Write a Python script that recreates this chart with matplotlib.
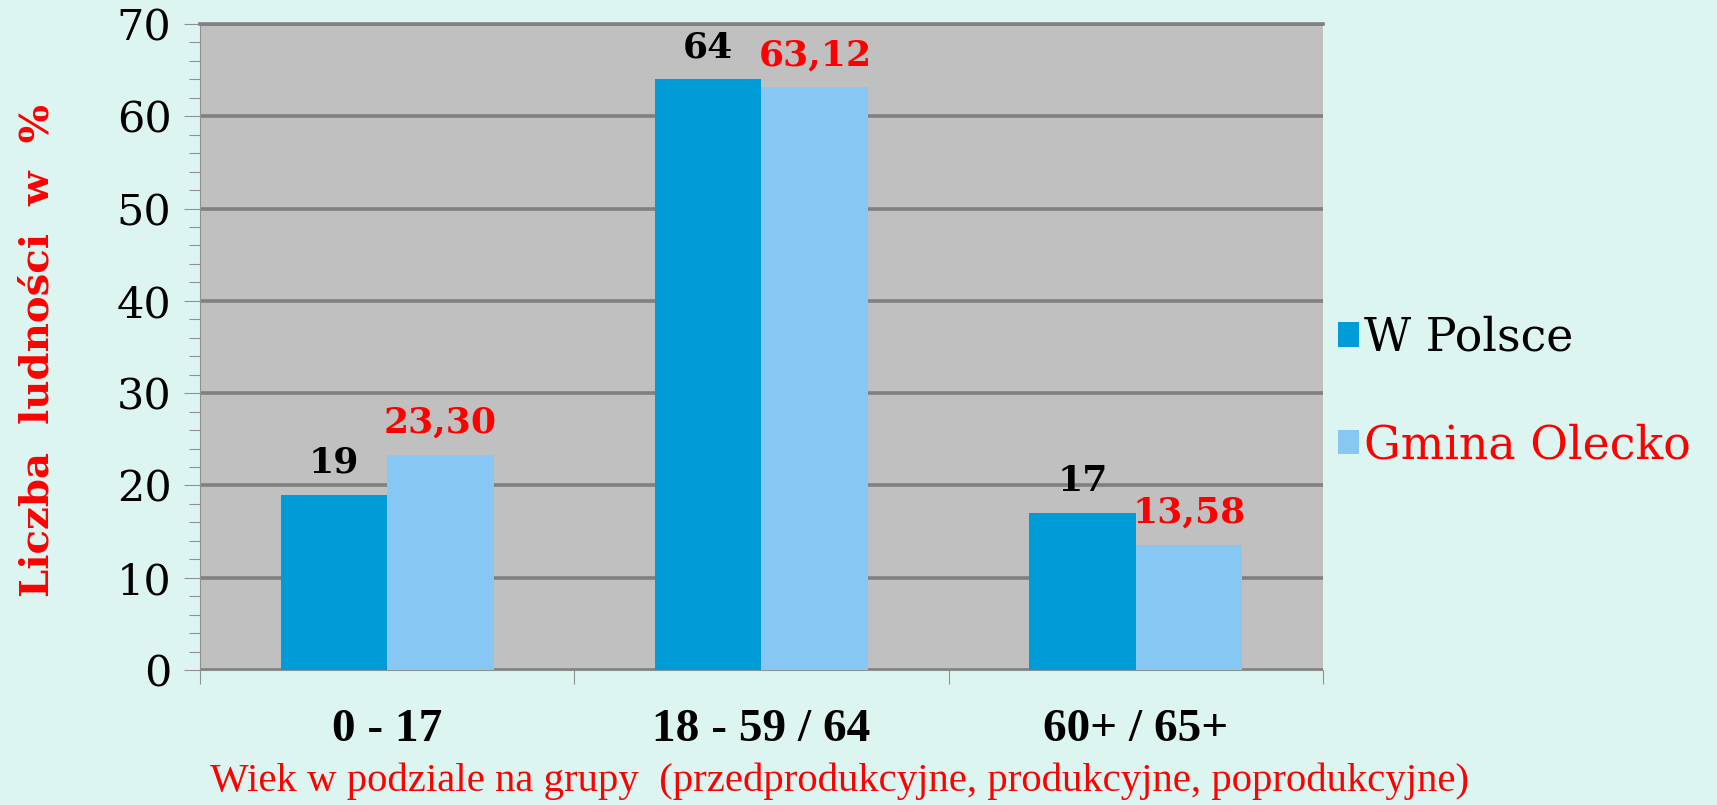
import matplotlib
matplotlib.use('Agg')
import matplotlib.pyplot as plt
import numpy as np

# dane
kategorie = ['0 - 17', '18 - 59 / 64', '60+ / 65+']
w_polsce = [19, 64, 17]
gmina_olecko = [23.30, 63.12, 13.58]
etykiety_polska = ['19', '64', '17']
etykiety_olecko = ['23,30', '63,12', '13,58']
serie = ['W Polsce', 'Gmina Olecko']

TLO = '#DDF5F0'
SZARY = '#C0C0C0'
CIEMNY = '#009CD7'
JASNY = '#87C7F4'
SIATKA = '#808080'

fig = plt.figure(figsize=(17.17, 8.05), dpi=100, facecolor=TLO)
ax = fig.add_axes([0.1165, 0.1677, 0.654, 0.8025])
ax.set_facecolor(SZARY)

x = np.arange(len(kategorie))
w = 0.285
ax.bar(x - w / 2, w_polsce, w, color=CIEMNY, label=serie[0], zorder=3)
ax.bar(x + w / 2, gmina_olecko, w, color=JASNY, label=serie[1], zorder=3)

for xi, v, t in zip(x - w / 2, w_polsce, etykiety_polska):
    ax.annotate(t, (xi, v), xytext=(0, 16), textcoords='offset points',
                ha='center', va='baseline', fontsize=26, fontweight='bold',
                family='DejaVu Serif', color='black')
for xi, v, t in zip(x + w / 2, gmina_olecko, etykiety_olecko):
    ax.annotate(t, (xi, v), xytext=(0, 16), textcoords='offset points',
                ha='center', va='baseline', fontsize=26, fontweight='bold',
                family='DejaVu Serif', color='red')

ax.set_xlim(-0.5, 2.5)
ax.set_ylim(0, 70)
ax.set_yticks(np.arange(0, 71, 10))
ax.set_yticks(np.arange(0, 71, 2), minor=True)
ax.yaxis.grid(True, which='major', color=SIATKA, linewidth=2.6, zorder=1)
ax.set_axisbelow(True)

ax.set_xticks(x)
ax.set_xticklabels(kategorie, fontsize=34, fontweight='bold', family='Liberation Serif')
ax.set_xticks([-0.5, 0.5, 1.5, 2.5], minor=True)
ax.tick_params(axis='x', which='major', length=0, pad=28)
ax.tick_params(axis='x', which='minor', length=10, width=0.8, color='#909090', direction='out')
ax.tick_params(axis='y', which='major', length=11.5, width=0.8, color='#909090', pad=9,
               labelsize=31)
ax.tick_params(axis='y', which='minor', length=8, width=0.8, color='#909090')
for lab in ax.get_yticklabels():
    lab.set_family('DejaVu Serif')

ax.spines['right'].set_visible(False)
ax.spines['top'].set_color(SIATKA)
ax.spines['top'].set_linewidth(2.6)
ax.spines['left'].set_color('#909090')
ax.spines['left'].set_linewidth(0.8)
ax.spines['bottom'].set_color('#909090')
ax.spines['bottom'].set_linewidth(0.8)

fig.text(0.022, 0.565, 'Liczba  ludności  w  %', rotation=90, ha='center', va='center',
         fontsize=29, fontweight='bold', family='DejaVu Serif', color='red')
fig.text(0.489, 0.030, 'Wiek w podziale na grupy  (przedprodukcyjne, produkcyjne, poprodukcyjne)',
         ha='center', va='center', fontsize=29.3, family='Liberation Serif', color='red')

leg = ax.legend(loc='center left', bbox_to_anchor=(0.7793, 0.513), bbox_transform=fig.transFigure,
                frameon=False, handlelength=0.45, handleheight=0.45,
                handletextpad=0.12, labelspacing=1.36, borderpad=0, borderaxespad=0,
                prop={'family': 'DejaVu Serif', 'size': 33})
leg.get_texts()[1].set_color('red')

fig.savefig('out.png', dpi=100, facecolor=TLO)
